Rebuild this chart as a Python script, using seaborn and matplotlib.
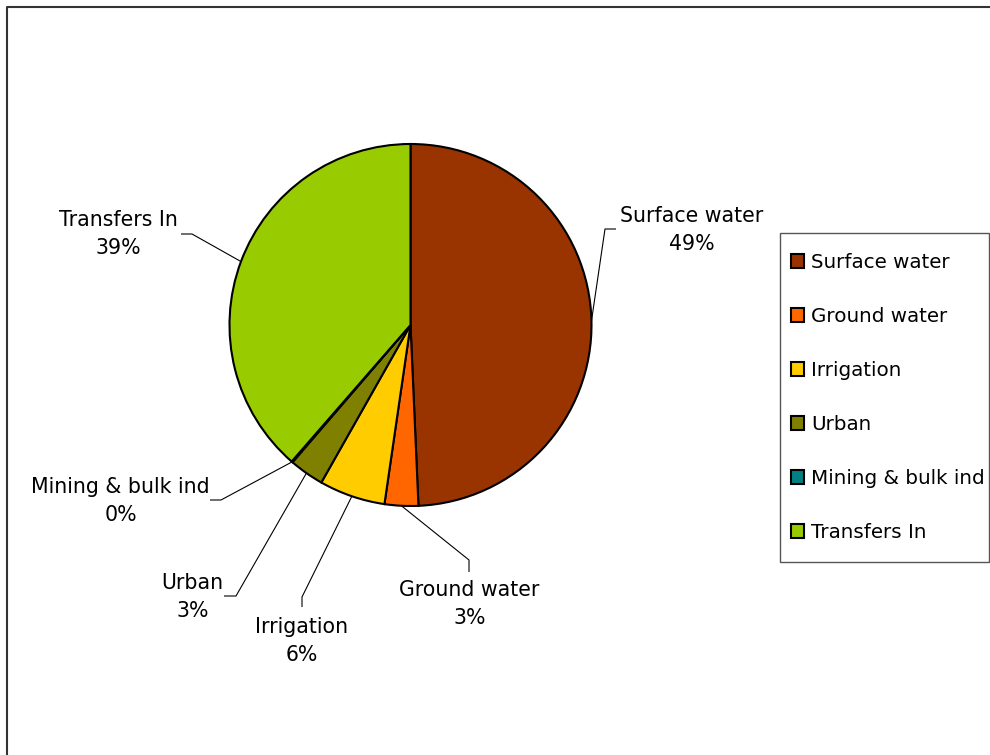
import math

import matplotlib
matplotlib.use("Agg")
import matplotlib.pyplot as plt
from matplotlib.patches import Rectangle
import seaborn as sns

# Water sources by category (share of total, %)
categories = ["Surface water", "Ground water", "Irrigation", "Urban",
              "Mining & bulk ind", "Transfers In"]
shares = [49.3, 3.0, 5.9, 3.1, 0.1, 38.6]
colors = ["#993300", "#FF6600", "#FFCC00", "#808000", "#008080", "#99CC00"]

sns.set_theme(style="white")
plt.rcParams["font.family"] = ["DejaVu Sans"]
palette = sns.color_palette(colors)

W, H = 990, 755
fig = plt.figure(figsize=(W / 100, H / 100), dpi=100)
ax = fig.add_axes([0, 0, 1, 1])


def px(x, y):
    """Pixel position (origin top-left) to data coordinates."""
    return (x, H - y)


cx, cy = px(410.5, 325)
R = 181
wedges, _ = ax.pie(
    shares, colors=palette, startangle=90, counterclock=False,
    center=(cx, cy), radius=R,
    wedgeprops=dict(edgecolor="black", linewidth=1.5),
)
ax.set_xlim(0, W)
ax.set_ylim(0, H)
ax.set_aspect("auto")
ax.axis("off")

# Leader-line bends and label centres for each slice
callouts = {
    "Surface water": ([(605, 229), (616, 229)], (691.5, 230)),
    "Ground water": ([(469, 560), (469, 572)], (469.5, 604.5)),
    "Irrigation": ([(302, 597), (302, 607)], (301.5, 641)),
    "Urban": ([(236, 596), (224, 596)], (192.5, 597)),
    "Mining & bulk ind": ([(221, 500), (210, 500)], (120.5, 501)),
    "Transfers In": ([(192, 234), (181, 234)], (118, 234.5)),
}

total = sum(shares)
for name, value, w in zip(categories, shares, wedges):
    ang = math.radians((w.theta1 + w.theta2) / 2)
    start = (cx + R * math.cos(ang), cy + R * math.sin(ang))
    bends, text_pos = callouts[name]
    pts = [start] + [px(*b) for b in bends]
    ax.plot([p[0] for p in pts], [p[1] for p in pts], color="black",
            lw=0.8, solid_capstyle="butt")
    ax.text(*px(*text_pos), f"{name}\n{value / total * 100:.0f}%",
            ha="center", va="center", multialignment="center",
            fontsize=14.8, linespacing=1.5, color="black")

# Legend with its own box
leg = ax.legend(wedges, categories, loc="upper left",
                bbox_to_anchor=px(791, 253), bbox_transform=ax.transData,
                frameon=False, fontsize=14.3, handlelength=0.67,
                handleheight=0.67, handletextpad=0.35, labelspacing=1.76,
                borderpad=0, borderaxespad=0)
for t in leg.get_texts():
    t.set_color("black")
ax.add_patch(Rectangle(px(780, 562), 209, 329, fill=False,
                       edgecolor="#555555", lw=1))

# Chart area outline (top and left edges)
ax.plot([7, 7, W], [0, H - 7, H - 7], color="#333333", lw=1.5, clip_on=False)

fig.savefig("out.png", dpi=100)
